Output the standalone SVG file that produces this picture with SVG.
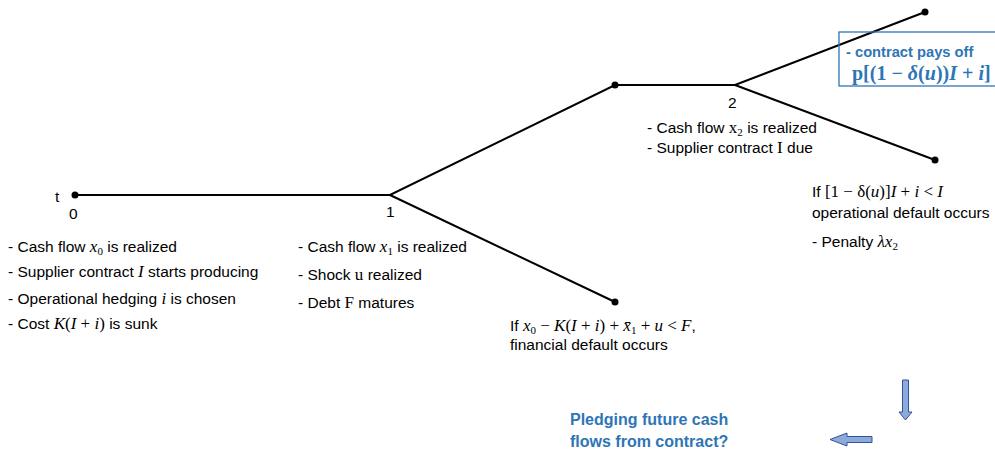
<svg xmlns="http://www.w3.org/2000/svg" width="995" height="449" viewBox="0 0 995 449">
<style>
.t{font-family:"Liberation Sans",Arial,sans-serif;font-size:15.5px;fill:#000}
.m{font-family:"Liberation Serif","Times New Roman",serif;font-style:italic;font-size:17px}
.r{font-family:"Liberation Serif","Times New Roman",serif;font-style:normal;font-size:17px}
.s{font-size:11px}
.e{fill:none;stroke:#000;stroke-width:2}
.d{fill:#000}
.b{font-family:"Liberation Sans",Arial,sans-serif;font-weight:bold;fill:#2E75B6}
.ar{fill:#8EA9DB;stroke:#2F5597;stroke-width:1}
</style>
<g id="connectors">
<path class="e" d="M75,195 L390,195 L615,85 L735,85 L925,12"/>
<path class="e" d="M390,195 L615,302"/>
<path class="e" d="M735,85 L935,160"/>
</g>
<g id="node-t0">
<circle class="d" cx="75" cy="195" r="3.5"/>
<text class="t" x="55" y="202" font-size="16">t</text>
<text class="t" x="69" y="219" font-size="16">0</text>
<text class="t" x="8" y="252">- Cash flow <tspan class="m">x</tspan><tspan class="r s" dy="3">0</tspan><tspan dy="-3"> is realized</tspan></text>
<text class="t" x="8" y="277">- Supplier contract <tspan class="m">I</tspan> starts producing</text>
<text class="t" x="8" y="304">- Operational hedging <tspan class="m">i</tspan> is chosen</text>
<text class="t" x="8" y="329">- Cost <tspan class="m">K</tspan><tspan class="r">(</tspan><tspan class="m">I</tspan><tspan class="r"> + </tspan><tspan class="m">i</tspan><tspan class="r">)</tspan> is sunk</text>
</g>
<g id="node-t1">
<text class="t" x="386" y="217" font-size="16">1</text>
<text class="t" x="298" y="252">- Cash flow <tspan class="m">x</tspan><tspan class="r s" dy="3">1</tspan><tspan dy="-3"> is realized</tspan></text>
<text class="t" x="298" y="280">- Shock <tspan class="r">u</tspan> realized</text>
<text class="t" x="298" y="308">- Debt <tspan class="r">F</tspan> matures</text>
</g>
<g id="node-default-fin">
<circle class="d" cx="615" cy="302" r="3.5"/>
<text class="t" x="510" y="331">If <tspan class="m">x</tspan><tspan class="r s" dy="3">0</tspan><tspan class="r" dy="-3"> − </tspan><tspan class="m">K</tspan><tspan class="r">(</tspan><tspan class="m">I</tspan><tspan class="r"> + </tspan><tspan class="m">i</tspan><tspan class="r">) + </tspan><tspan class="m">x̄</tspan><tspan class="r s" dy="3">1</tspan><tspan class="r" dy="-3"> + </tspan><tspan class="m">u</tspan><tspan class="r"> &lt; </tspan><tspan class="m">F</tspan>,</text>
<text class="t" x="510" y="350">financial default occurs</text>
</g>
<g id="node-mid">
<circle class="d" cx="615" cy="85" r="3.5"/>
</g>
<g id="node-t2">
<text class="t" x="728" y="108" font-size="16">2</text>
<text class="t" x="647" y="133">- Cash flow <tspan class="r">x</tspan><tspan class="r s" dy="3">2</tspan><tspan dy="-3"> is realized</tspan></text>
<text class="t" x="647" y="153">- Supplier contract <tspan class="r">I</tspan> due</text>
</g>
<g id="node-payoff">
<circle class="d" cx="925" cy="12" r="3.5"/>
<rect x="839" y="32" width="160" height="54" fill="none" stroke="#2E75B6" stroke-width="1.3"/>
<text class="b" x="846" y="57" font-size="14.7">- contract pays off</text>
<text x="852" y="80" font-family="Liberation Serif,serif" font-weight="bold" font-size="20" fill="#2E75B6">p[(1 − <tspan font-style="italic">δ</tspan>(<tspan font-style="italic">u</tspan>))<tspan font-style="italic">I</tspan> + <tspan font-style="italic">i</tspan>]</text>
</g>
<g id="node-default-op">
<circle class="d" cx="935" cy="160" r="3.5"/>
<text class="t" x="812" y="197">If <tspan class="r">[1 − δ(</tspan><tspan class="m">u</tspan><tspan class="r">)]</tspan><tspan class="m">I</tspan><tspan class="r"> + </tspan><tspan class="m">i</tspan><tspan class="r"> &lt; </tspan><tspan class="m">I</tspan></text>
<text class="t" x="812" y="218">operational default occurs</text>
<text class="t" x="812" y="247">- Penalty  <tspan class="m">λx</tspan><tspan class="r s" dy="3">2</tspan></text>
</g>
<g id="pledge">
<path class="ar" d="M902.5,380 H908.5 V412 H912 L905.5,420 L899,412 H902.5 Z"/>
<path class="ar" d="M872,436.5 V442.5 H847 V446 L830,439.5 L847,433 V436.5 Z"/>
<text class="b" x="570" y="425" font-size="16">Pledging future cash</text>
<text class="b" x="570" y="447" font-size="16">flows from contract?</text>
</g>
</svg>
